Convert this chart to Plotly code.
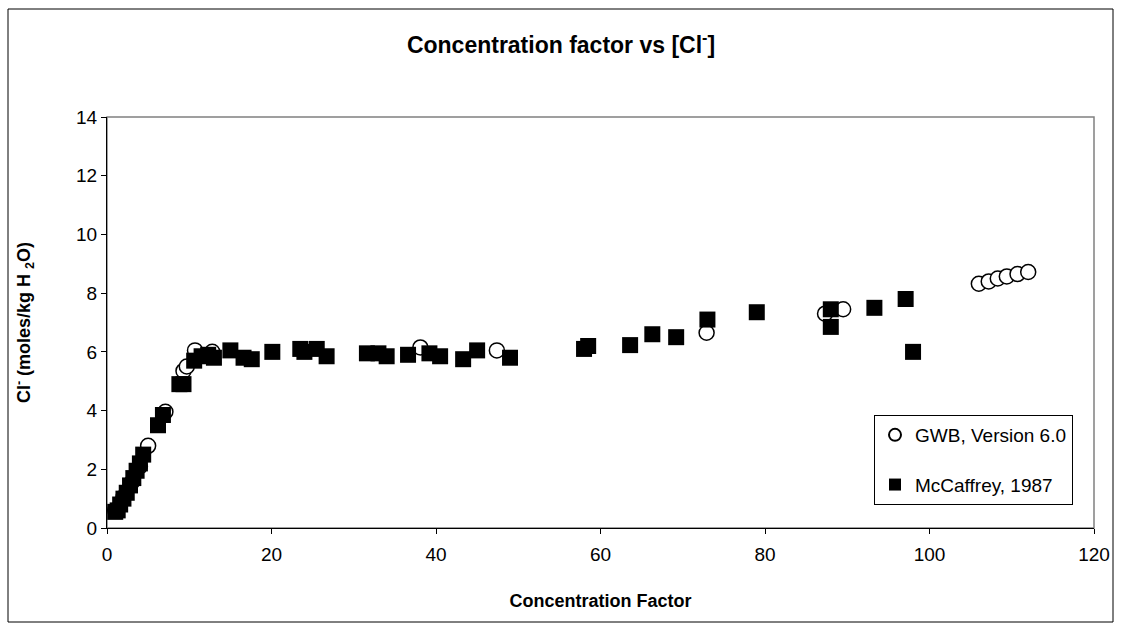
import plotly.graph_objects as go

# GWB model output (Version 6.0)
gwb_cf = [1.0, 2.0, 3.0, 4.0, 5.0, 7.1, 9.3, 9.7, 10.7, 12.8, 38.1, 47.4,
          72.9, 87.3, 89.5, 106.0, 107.2, 108.3, 109.4, 110.7, 112.0]
gwb_cl = [0.6, 1.05, 1.55, 2.1, 2.8, 3.96, 5.35, 5.5, 6.05, 6.0, 6.15, 6.05,
          6.65, 7.3, 7.45, 8.32, 8.4, 8.5, 8.57, 8.65, 8.72]

# McCaffrey (1987) measurements
mcc_cf = [1.0, 1.3, 1.6, 2.0, 2.4, 2.8, 3.2, 3.6, 4.0, 4.4, 6.2, 6.8, 8.8, 9.3,
          10.6, 11.5, 12.3, 13.0, 15.0, 16.6, 17.6, 20.1, 23.5, 24.0, 25.5,
          26.7, 31.6, 33.0, 34.0, 36.6, 39.2, 40.5, 43.3, 45.0, 49.0, 58.0,
          58.5, 63.6, 66.3, 69.2, 73.0, 79.0, 88.0, 88.0, 93.3, 97.1, 98.0]
mcc_cl = [0.55, 0.6, 0.8, 1.0, 1.2, 1.45, 1.7, 1.95, 2.2, 2.5, 3.5, 3.85, 4.9,
          4.9, 5.7, 5.85, 5.9, 5.8, 6.05, 5.8, 5.75, 6.0, 6.1, 6.0, 6.1, 5.85,
          5.95, 5.95, 5.85, 5.9, 5.95, 5.85, 5.75, 6.05, 5.8, 6.1, 6.2, 6.23,
          6.6, 6.5, 7.1, 7.35, 7.45, 6.85, 7.5, 7.8, 6.0]

x_ticks = [0, 20, 40, 60, 80, 100, 120]
y_ticks = [0, 2, 4, 6, 8, 10, 12, 14]

FONT = "Liberation Sans, Arial, sans-serif"

fig = go.Figure()
fig.add_trace(go.Scatter(
    x=gwb_cf, y=gwb_cl, mode="markers", name="GWB, Version 6.0",
    legendgroup="gwb",
    marker=dict(symbol="circle", size=15, color="white",
                line=dict(color="black", width=1.5)),
))
fig.add_trace(go.Scatter(
    x=mcc_cf, y=mcc_cl, mode="markers", name="McCaffrey, 1987",
    legendgroup="mcc",
    marker=dict(symbol="square", size=16, color="black",
                line=dict(color="black", width=0)),
))

# plot-area layout in pixels
L, R, T, B = 107, 28, 117, 104
W, H = 1122, 632
pw, ph = W - L - R, H - T - B

def px_x(p):
    return (p - L) / pw

def px_y(p):
    return (H - B - p) / ph

fig.update_layout(
    width=W, height=H,
    margin=dict(l=L, r=R, t=T, b=B),
    paper_bgcolor="white", plot_bgcolor="white",
    font=dict(family=FONT, size=19, color="black"),
    title=dict(text="<b>Concentration factor vs [Cl<sup>-</sup>]</b>",
               x=0.5, xanchor="center", y=1 - 45 / H, yanchor="middle",
               font=dict(size=23)),
    showlegend=True,
    legend=dict(x=px_x(874), y=px_y(415), xanchor="left", yanchor="top",
                bordercolor="black", borderwidth=1, bgcolor="white",
                font=dict(size=19), itemsizing="constant",
                tracegroupgap=22, entrywidth=208),
    xaxis=dict(range=[0, 120], tickvals=x_ticks, ticks="outside", ticklen=5,
               tickcolor="black", showline=True, linecolor="black",
               linewidth=1, showgrid=False, zeroline=False,
               tickfont=dict(size=19), ticklabelstandoff=4,
               title=dict(text="<b>Concentration Factor</b>", standoff=30,
                          font=dict(size=18))),
    yaxis=dict(range=[0, 14], tickvals=y_ticks, ticks="outside", ticklen=5,
               tickcolor="black", showline=True, linecolor="black",
               linewidth=1, showgrid=False, zeroline=False,
               tickfont=dict(size=19),
               title=dict(text="<b>Cl<sup>-</sup> (moles/kg H <sub>2</sub>O)</b>",
                          standoff=40, font=dict(size=18))),
    shapes=[
        # grey frame around the plotting area
        dict(type="rect", xref="paper", yref="paper", x0=0, x1=1, y0=0, y1=1,
             line=dict(color="#808080", width=1.5), layer="below"),
        # outer chart border
        dict(type="rect", xref="paper", yref="paper",
             x0=px_x(8), x1=px_x(1113), y0=px_y(622), y1=px_y(9),
             line=dict(color="black", width=1), layer="below"),
    ],
)

fig.write_html("out.html")
